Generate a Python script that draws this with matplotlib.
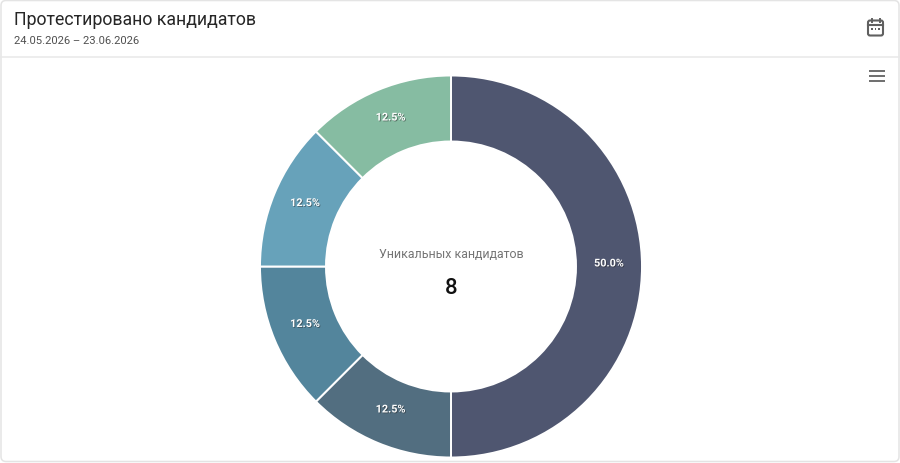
import numpy as np
import matplotlib
matplotlib.use("Agg")
import matplotlib.pyplot as plt
import matplotlib.patheffects as pe
from matplotlib.patches import FancyBboxPatch, Rectangle

W, H = 900, 463

# data
valores = [50.0, 12.5, 12.5, 12.5, 12.5]
etiquetas = ["50.0%", "12.5%", "12.5%", "12.5%", "12.5%"]
colores = ["#4f5670", "#526e80", "#53859c", "#67a2ba", "#86bca2"]

titulo = "Протестировано кандидатов"
periodo = "24.05.2026 – 23.06.2026"
centro_texto = "Уникальных кандидатов"
centro_valor = "8"

plt.rcParams['font.family'] = ['Roboto', 'DejaVu Sans']

fig = plt.figure(figsize=(W / 100, H / 100), dpi=100, facecolor="white")
ax = fig.add_axes([0, 0, 1, 1])


def Y(y):
    # coordenadas de pantalla -> eje
    return H - y


# dona
cx, cy, R = 451, Y(266.5), 191
ancho = 66
ax.pie(valores, colors=colores, startangle=90, counterclock=False, center=(cx, cy), radius=R,
       frame=True, wedgeprops=dict(width=ancho, edgecolor="white", linewidth=1.4))
ax.set_xlim(0, W)
ax.set_ylim(0, H)
ax.set_aspect("auto")
ax.axis("off")

# tarjeta
ax.add_patch(FancyBboxPatch((1, Y(461.5)), 898, 461, boxstyle="round,pad=0,rounding_size=5",
                            fc="none", ec="#e4e4e4", lw=1.1, zorder=1))
ax.plot([1, 899], [Y(57), Y(57)], color="#e8e8e8", lw=1.1, zorder=1)

ax.text(14, Y(20), titulo, fontsize=12.75, color="#262626", va="center", ha="left")
ax.text(14, Y(41.5), periodo, fontsize=8.1, color="#505050", va="center", ha="left")

# etiquetas de porcentaje
acum = 0
r_lab = R - ancho / 2
for v, lab in zip(valores, etiquetas):
    ang = np.pi / 2 - (acum + v / 2) / 100 * 2 * np.pi
    ax.text(cx + r_lab * np.cos(ang), cy + r_lab * np.sin(ang) + 3, lab, fontsize=7.8, fontweight="bold",
            color="white", ha="center", va="center",
            path_effects=[pe.withSimplePatchShadow(offset=(0.6, -0.6), shadow_rgbFace="#222222", alpha=0.5)])
    acum += v

ax.text(451, Y(254), centro_texto, fontsize=8.9, color="#757575", ha="center", va="center")
ax.text(451, Y(288), centro_valor, fontsize=16, fontweight="medium", color="#111111", ha="center", va="center")

# icono calendario
gris = "#606060"
ax.add_patch(FancyBboxPatch((868, Y(35.5)), 15, 15, boxstyle="round,pad=0,rounding_size=2",
                            fc="none", ec=gris, lw=1.5))
ax.plot([868, 883], [Y(25), Y(25)], color=gris, lw=1.5)
for xi in (871.5, 879.5):
    ax.plot([xi, xi], [Y(18.5), Y(22)], color=gris, lw=1.4)
for xi in (872, 875.5, 879):
    ax.add_patch(Rectangle((xi - 0.8, Y(29.8)), 1.6, 1.6, fc=gris, ec="none"))

# icono menu
for yi in (71, 76, 81):
    ax.plot([869, 885], [Y(yi), Y(yi)], color="#6e6e6e", lw=1.4, solid_capstyle="butt")

fig.savefig("out.png", dpi=100, facecolor="white")
